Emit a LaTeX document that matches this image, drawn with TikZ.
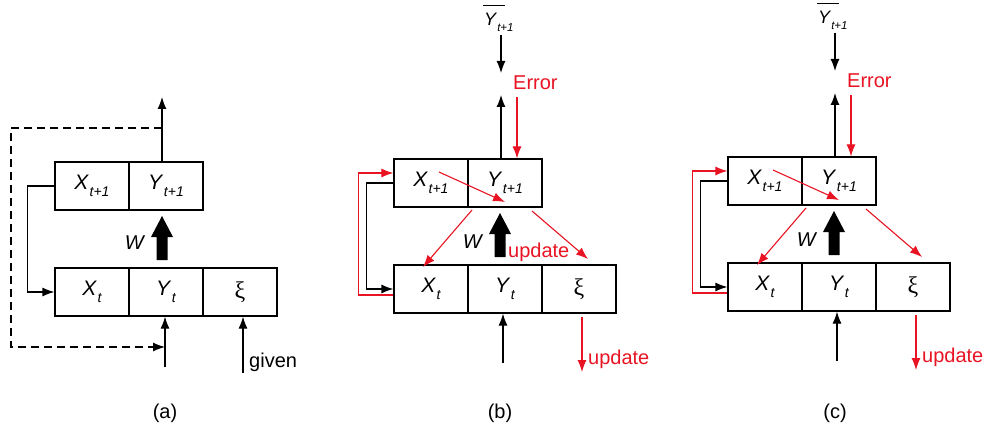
\documentclass[tikz,border=0pt]{standalone}
\usepackage{fontspec}
\setmainfont{Liberation Sans}
\newfontfamily\xifont{Liberation Serif}
\usetikzlibrary{arrows.meta}

\definecolor{errred}{RGB}{232,20,36}

% italic symbol with a lowered italic index
\newcommand{\subsc}[1]{\raisebox{-7pt}{\fontsize{14}{14}\selectfont\itshape #1}}
\newcommand{\lbl}[2]{{\fontsize{21}{22}\selectfont\textit{#1}}\kern0.5pt\subsc{#2}}
% target value: Y with a bar and index t+1
\newcommand{\ybar}{\fontsize{18}{18}\selectfont\rlap{\rule[20pt]{22pt}{1.2pt}}\kern1pt\textit{Y}\raisebox{-6pt}{\fontsize{11.5}{11.5}\selectfont\itshape t+1}}
% xi symbol in serif
\newcommand{\xisym}{\xifont\fontsize{24}{24}\selectfont ξ}
% big weight arrow W, pointing up, tip at (x, 216)
\newcommand{\warrow}[1]{\fill (#1,216) -- (#1+11,237) -- (#1+5.5,237) -- (#1+5.5,260) -- (#1-5.5,260) -- (#1-5.5,237) -- (#1-11,237) -- cycle;}

% one training panel: #1 = name prefix, #2 = extra content
\newcommand{\trainpanel}[2]{%
  \node[cell] (#1x1) at (92,186) {\lbl{X}{t+1}};
  \node[cell] (#1y1) at (166,186) {\lbl{Y}{t+1}};
  \node[cell] (#1x0) at (92,292) {\lbl{X}{t}};
  \node[cell] (#1y0) at (166,292) {\lbl{Y}{t}};
  \node[cell] (#1xi) at (240,292) {\xisym};
  % output and target
  \coordinate (#1up) at (162,98);
  \draw[arr] (#1up |- #1y1.north) -- (#1up);
  \node[anchor=base west, inner sep=0pt] (#1bar) at (144,29) {\ybar};
  \coordinate (#1ts) at (162,38);
  \coordinate (#1te) at (162,76);
  \draw[arr] (#1ts) -- (#1te);
  % error fed back into the output cell
  \node[redtxt, anchor=base west] (#1err) at (174,93) {Error};
  \coordinate (#1es) at (178,100);
  \draw[rarr] (#1es) -- (#1es |- #1y1.north);
  \coordinate (#1da) at (100,175);
  \coordinate (#1db) at (166,205);
  \draw[rarr] (#1da) -- (#1db);
  \coordinate (#1la) at (133,213);
  \coordinate (#1lb) at (84,270);
  \draw[rarr] (#1la) -- (#1lb);
  \coordinate (#1ra) at (193,214);
  \coordinate (#1rb) at (249,262);
  \draw[rarr] (#1ra) -- (#1rb);
  % weights
  \warrow{161}
  \node (#1w) at (134,245) {\textit{W}};
  #2
  % recurrence, forward (black) and backward (red)
  \draw[arr] (#1x1.west) -- ++(-27,0) |- (#1x0.west);
  \draw[rarr] ([yshift=-6pt]#1x0.west) -- ++(-35,0) |- ([yshift=10pt]#1x1.west);
  % input
  \coordinate (#1in) at (164,366);
  \draw[arr] (#1in) -- (#1in |- #1y0.south);
  % noise update
  \coordinate (#1us) at (243,320);
  \coordinate (#1ue) at (243,375);
  \draw[rarr] (#1us) -- (#1ue);
  \node[redtxt, anchor=base west] (#1upd) at (249,367) {update};
}

\begin{document}
\begin{tikzpicture}[x=1pt, y=-1pt,
  font=\fontsize{20}{22}\selectfont,
  cell/.style={draw, line width=1.2pt, minimum width=74pt, minimum height=48pt, inner sep=0pt},
  wire/.style={line width=1.2pt},
  arr/.style={wire, -{Latex[length=12pt,width=9pt]}},
  rarr/.style={draw=errred, line width=1.1pt, -{Latex[length=12pt,width=9pt]}},
  redtxt/.style={text=errred, inner sep=0pt}]

\fill[white] (0,0) rectangle (986,436);
\useasboundingbox (0,0) rectangle (986,436);

% ---- panel (a): generation ----
\node[cell] (ax1) at (92,186) {\lbl{X}{t+1}};
\node[cell] (ay1) at (166,186) {\lbl{Y}{t+1}};
\node[cell] (ax0) at (92,292) {\lbl{X}{t}};
\node[cell] (ay0) at (166,292) {\lbl{Y}{t}};
\node[cell] (axi) at (240,292) {\xisym};

\coordinate (aup) at (162,97);
\coordinate (atap) at (162,128);
\draw[arr] (aup |- ay1.north) -- (aup);

\coordinate (ain) at (165,367);
\draw[arr] (ain) -- (ain |- ay0.south);
\draw[arr, dash pattern=on 8pt off 5pt] (atap) -- (11,128) -- (11,347) -- (ain |- 0,347);

\draw[arr] (ax1.west) -- ++(-27,0) |- (ax0.west);

\coordinate (agiv) at (243,373);
\draw[arr] (agiv) -- (agiv |- axi.south);
\node[anchor=base west, inner sep=0pt] (given) at (249,367) {given};

\warrow{162}
\node (aw) at (135,243) {\textit{W}};

% ---- panel (b): training with update of W ----
\begin{scope}[shift={(339,-3)}]
  \trainpanel{b}{\node[redtxt, anchor=base west] (bwupd) at (169,260) {update};}
\end{scope}

% ---- panel (c): training without update of W ----
\begin{scope}[shift={(673,-5)}]
  \trainpanel{c}{}
\end{scope}

% captions
\node (capa) at (165,413) {(a)};
\node (capb) at (500,413) {(b)};
\node (capc) at (835,413) {(c)};

\end{tikzpicture}
\end{document}
